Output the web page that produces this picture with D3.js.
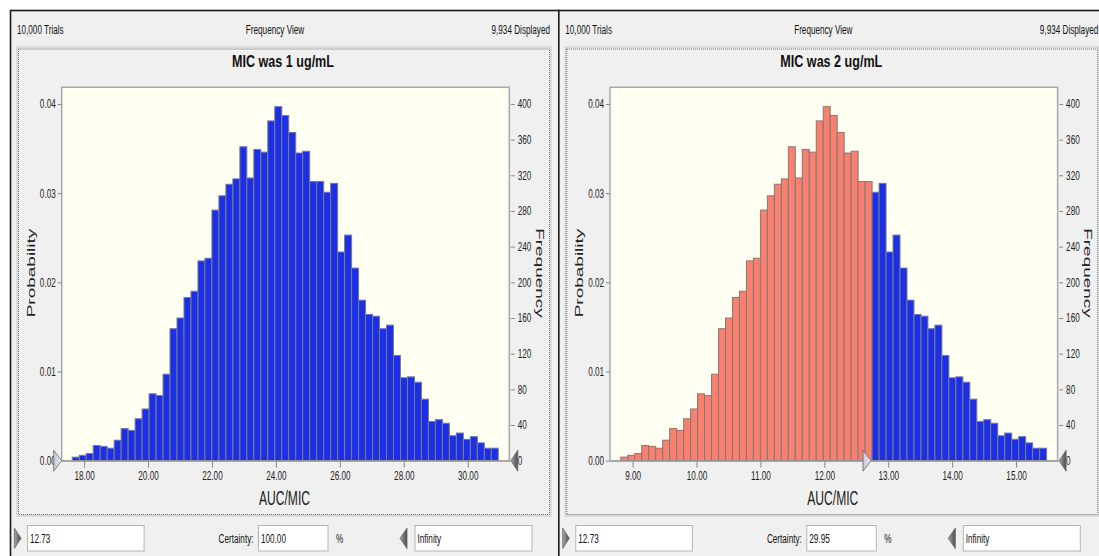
<!DOCTYPE html>
<html>
<head>
<meta charset="utf-8">
<script src="https://cdn.jsdelivr.net/npm/d3@7"></script>
<style>
  body { margin: 0; background: #fff; }
  svg { display: block; font-family: "Liberation Sans", Arial, sans-serif; }
</style>
</head>
<body>
<div class="chart"></div>
<script>
const FRAME_WIDTH = 1099;
const FRAME_HEIGHT = 556;

// frequency per bin (same 61 bins in both views)
const FREQ = [4, 6, 8, 17, 16, 14, 23, 36, 34, 47, 58, 75, 73, 97, 148, 160, 183, 190, 224, 227,
  281, 297, 310, 316, 352, 317, 349, 346, 381, 397, 387, 368, 345, 347, 313, 313, 301, 311, 234, 253,
  216, 180, 164, 162, 148, 152, 118, 93, 94, 88, 69, 44, 46, 42, 28, 31, 24, 27, 20, 14, 14];

const TITLES = ["MIC was 1 ug/mL", "MIC was 2 ug/mL"];
const BIN_RANGES = [[17.63, 30.955], [8.815, 15.478]];
const X_DOMAINS = [[17.30, 31.30], [8.646, 15.65]];
const X_TICKS = [[18, 20, 22, 24, 26, 28, 30], [9, 10, 11, 12, 13, 14, 15]];
const PROB_TICKS = [0, 0.01, 0.02, 0.03, 0.04];
const FREQ_TICKS = [0, 40, 80, 120, 160, 200, 240, 280, 320, 360, 400];
const FREQ_TOP = 418.7;
const TRIALS = 10000;
const DISPLAYED = 9934;
const LOWER = 12.73;
const CERTAINTY = ["100.00", "29.95"];

const PANEL_W = 548.3;
const PLOT = {left: 61.7, right: 509.3, top: 87.3, bottom: 460.7};
const SQ = 0.68;      // the screenshot is squeezed horizontally
const SQ_BIG = 0.62;

const SVG = d3.select(".chart")
  .append("svg")
  .attr("width", FRAME_WIDTH)
  .attr("height", FRAME_HEIGHT);

const DEFS = SVG.append("defs");
const g1 = DEFS.append("linearGradient").attr("id", "darkGrip");
g1.append("stop").attr("offset", "0%").attr("stop-color", "#a8a8a8");
g1.append("stop").attr("offset", "100%").attr("stop-color", "#4a4a4a");
const g2 = DEFS.append("linearGradient").attr("id", "lightGrip");
g2.append("stop").attr("offset", "0%").attr("stop-color", "#c4c4d4");
g2.append("stop").attr("offset", "100%").attr("stop-color", "#eeeef6");

// squeezed text helper
function sqText(parent, x, y, str, sx, anchor) {
  return parent.append("text")
    .attr("transform", "translate(" + x + "," + y + ") scale(" + sx + ",1)")
    .attr("text-anchor", anchor || "start")
    .text(str);
}

function triangle(parent, tipX, tipY, dir, w, h, fill) {
  const bx = tipX - dir * w;
  parent.append("path")
    .attr("d", "M" + tipX + "," + tipY + "L" + bx + "," + (tipY - h / 2) + "L" + bx + "," + (tipY + h / 2) + "Z")
    .attr("fill", fill)
    .attr("stroke", "#6a6a6a")
    .attr("stroke-width", 0.8);
}

function drawPanel(i) {
  const P = SVG.append("g").attr("transform", "translate(" + (i * PANEL_W) + ",0)");

  // window
  P.append("rect")
    .attr("x", 10.5).attr("y", 10.5)
    .attr("width", PANEL_W).attr("height", FRAME_HEIGHT)
    .attr("fill", "#f0f0f0")
    .attr("stroke", "#1a1a1a")
    .attr("stroke-width", 1.6);

  const head = P.append("g").attr("font-size", 12).attr("fill", "#111");
  sqText(head, 17, 34, d3.format(",")(TRIALS) + " Trials", SQ);
  sqText(head, 275, 34, "Frequency View", SQ, "middle");
  sqText(head, 550, 34, d3.format(",")(DISPLAYED) + " Displayed", SQ, "end");

  // chart frame
  P.append("rect")
    .attr("x", 17).attr("y", 47)
    .attr("width", 534).attr("height", 469)
    .attr("fill", "none")
    .attr("stroke", "#c4c4c4")
    .attr("stroke-width", 1);
  P.append("rect")
    .attr("x", 18.5).attr("y", 49)
    .attr("width", 531).attr("height", 465.5)
    .attr("fill", "none")
    .attr("stroke", "#666")
    .attr("stroke-width", 1)
    .attr("stroke-dasharray", "1,1");

  sqText(P, 283, 67, TITLES[i], 0.74, "middle")
    .attr("font-size", 17)
    .attr("font-weight", "bold")
    .attr("fill", "#111");

  const X_SCALE = d3.scaleLinear().domain(X_DOMAINS[i]).range([PLOT.left, PLOT.right]);
  const F_SCALE = d3.scaleLinear().domain([0, FREQ_TOP]).range([PLOT.bottom, PLOT.top]);
  const P_SCALE = d3.scaleLinear().domain([0, FREQ_TOP / TRIALS]).range([PLOT.bottom, PLOT.top]);

  P.append("rect")
    .attr("x", PLOT.left).attr("y", PLOT.top)
    .attr("width", PLOT.right - PLOT.left)
    .attr("height", PLOT.bottom - PLOT.top)
    .attr("fill", "#fffff2")
    .attr("stroke", "#a8a8a8")
    .attr("stroke-width", 1.5);

  const lo = BIN_RANGES[i][0];
  const bw = (BIN_RANGES[i][1] - BIN_RANGES[i][0]) / FREQ.length;
  const bins = FREQ.map((f, k) => ({x0: lo + k * bw, x1: lo + (k + 1) * bw, f: f}));

  P.append("g")
    .selectAll("rect")
    .data(bins)
    .enter()
    .append("rect")
      .attr("x", d => X_SCALE(d.x0))
      .attr("y", d => F_SCALE(d.f))
      .attr("width", d => X_SCALE(d.x1) - X_SCALE(d.x0))
      .attr("height", d => PLOT.bottom - F_SCALE(d.f))
      .attr("fill", d => ((d.x0 + d.x1) / 2 < LOWER ? "#fa7f6e" : "#1b2fe8"))
      .attr("stroke", "#7c7c7c")
      .attr("stroke-width", 1);

  // axes
  const xAxis = P.append("g")
    .attr("transform", "translate(0," + PLOT.bottom + ")")
    .call(d3.axisBottom(X_SCALE).tickValues(X_TICKS[i]).tickFormat(d3.format(".2f"))
      .tickSize(7).tickSizeOuter(0).tickPadding(4));
  const yLeft = P.append("g")
    .attr("transform", "translate(" + PLOT.left + ",0)")
    .call(d3.axisLeft(P_SCALE).tickValues(PROB_TICKS).tickFormat(d3.format(".2f"))
      .tickSize(4).tickSizeOuter(0).tickPadding(2));
  const yRight = P.append("g")
    .attr("transform", "translate(" + (PLOT.right + 1.5) + ",0)")
    .call(d3.axisRight(F_SCALE).tickValues(FREQ_TICKS)
      .tickSize(4).tickSizeOuter(0).tickPadding(3));

  [xAxis, yLeft, yRight].forEach(ax => {
    ax.attr("font-family", null).attr("font-size", 12);
    ax.select(".domain").attr("stroke", "#a8a8a8").attr("stroke-width", 1.5);
    ax.selectAll(".tick line").attr("stroke", "#888");
    ax.selectAll(".tick text").attr("fill", "#222").attr("transform", "scale(" + SQ + ",1)");
  });
  yLeft.select(".domain").remove();
  yRight.select(".domain").remove();
  yLeft.selectAll(".tick text").attr("x", -6 / SQ);
  yRight.selectAll(".tick text").attr("x", 7 / SQ);

  // axis titles
  P.append("text")
    .attr("transform", "translate(284.5,504.5) scale(" + SQ_BIG + ",1)")
    .attr("text-anchor", "middle")
    .attr("font-size", 19.5)
    .attr("fill", "#222")
    .text("AUC/MIC");
  P.append("text")
    .attr("transform", "translate(34.5,273) scale(" + SQ_BIG + ",1) rotate(-90)")
    .attr("text-anchor", "middle")
    .attr("font-size", 19)
    .attr("fill", "#222")
    .text("Probability");
  P.append("text")
    .attr("transform", "translate(535.5,273) scale(" + SQ_BIG + ",1) rotate(90)")
    .attr("text-anchor", "middle")
    .attr("font-size", 19)
    .attr("fill", "#222")
    .text("Frequency");

  // certainty grabbers
  const lowX = Math.max(PLOT.left, X_SCALE(LOWER));
  triangle(P, lowX, PLOT.bottom, 1, 8, 21, "url(#lightGrip)");
  triangle(P, PLOT.right + 1.5, PLOT.bottom, -1, 7, 21, "url(#darkGrip)");

  // bottom controls
  const ctl = P.append("g").attr("font-size", 12).attr("fill", "#111");
  triangle(ctl, 21, 538.3, 1, 6.6, 20.5, "url(#darkGrip)");
  const boxes = [[27, 116.6, LOWER.toFixed(2)], [258, 69.5, CERTAINTY[i]], [414.5, 117, "Infinity"]];
  boxes.forEach(b => {
    ctl.append("rect")
      .attr("x", b[0] + 0.5).attr("y", 525.5)
      .attr("width", b[1]).attr("height", 25.5)
      .attr("fill", "#fff")
      .attr("stroke", "#b4b4b4");
    sqText(ctl, b[0] + 3, 542.5, b[2], SQ);
  });
  sqText(ctl, 253.5, 542.5, "Certainty:", SQ, "end");
  sqText(ctl, 336, 542.5, "%", SQ);
  triangle(ctl, 400, 538.3, -1, 7, 20.5, "url(#darkGrip)");
}

drawPanel(0);
drawPanel(1);
</script>
</body>
</html>
